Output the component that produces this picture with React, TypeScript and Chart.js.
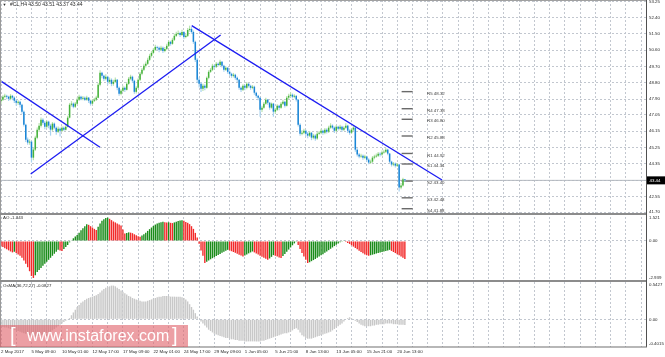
import React, { useEffect, useRef } from 'react';
import { Chart, registerables } from 'chart.js';

Chart.register(...registerables);

// ---------------- data ----------------
const xTickLabels = ['2 May 2017', '5 May 09:00', '10 May 01:00', '12 May 17:00', '17 May 09:00', '22 May 01:00', '24 May 17:00', '29 May 09:00', '1 Jun 05:00', '5 Jun 21:00', '8 Jun 13:00', '13 Jun 05:00', '15 Jun 21:00', '20 Jun 13:00'];
const priceTickLabels = ['53.25', '52.40', '51.50', '50.60', '49.70', '48.80', '47.90', '47.05', '46.15', '45.25', '44.35', '43.45', '42.55', '41.70'];
const aoTickLabels = ['1.521', '0.00', '-2.939'];
const osmaTickLabels = ['0.5427', '0.00', '-0.4015'];

const firstOpen = 47.80;
const closes = [
  47.88, 48.04, 48.09, 48.04, 47.93, 48.09, 47.99, 47.82, 47.71, 47.77,
  47.60, 47.22, 46.50, 45.68, 45.52, 45.57, 44.69, 45.13, 45.79, 46.23,
  46.45, 46.78, 46.61, 46.39, 46.67, 46.45, 46.23, 46.56, 46.34, 46.12,
  46.28, 46.17, 46.34, 46.23, 46.39, 46.89, 47.60, 47.66, 47.49, 47.66,
  47.88, 48.04, 47.93, 47.99, 47.88, 47.99, 47.82, 47.66, 47.82, 47.88,
  47.99, 48.70, 49.36, 49.19, 49.03, 49.14, 48.86, 48.97, 48.75, 48.86,
  48.97, 48.53, 48.20, 48.37, 48.53, 48.42, 48.75, 49.03, 49.14, 48.92,
  48.31, 48.53, 48.97, 49.30, 49.52, 49.74, 49.85, 50.07, 50.29, 50.45,
  50.62, 50.78, 50.73, 50.62, 50.73, 50.56, 50.67, 50.84, 51.06, 50.95,
  51.17, 51.39, 51.50, 51.55, 51.44, 51.60, 51.33, 51.39, 51.71, 51.77,
  51.60, 51.06, 50.07, 48.97, 48.75, 48.48, 48.64, 48.53, 49.08, 49.41,
  49.52, 49.74, 49.69, 49.85, 49.79, 49.96, 49.74, 49.52, 49.63, 49.41,
  49.30, 49.19, 49.25, 49.08, 48.97, 48.53, 48.42, 48.64, 48.53, 48.75,
  48.64, 48.53, 48.59, 48.26, 48.09, 47.99, 47.33, 47.44, 47.66, 47.88,
  47.71, 47.44, 47.66, 47.22, 47.33, 47.55, 47.44, 47.66, 47.77, 47.55,
  47.99, 48.09, 48.15, 48.04, 48.09, 47.88, 46.50, 46.01, 46.06, 46.17,
  46.01, 45.90, 46.06, 45.79, 45.90, 45.74, 46.01, 46.06, 46.17, 46.06,
  46.23, 46.12, 46.34, 46.45, 46.34, 46.17, 46.39, 46.28, 46.39, 46.23,
  46.34, 46.45, 46.17, 46.06, 46.23, 46.34, 45.13, 44.86, 44.75, 44.80,
  44.69, 44.75, 44.58, 44.42, 44.47, 44.69, 44.75, 44.80, 44.91, 44.86,
  44.97, 45.02, 45.13, 44.91, 44.47, 44.31, 44.36, 44.25, 44.31, 43.05,
  43.16, 43.50, 43.44,
];
const highs = [
  48.00, 48.12, 48.20, 48.15, 48.10, 48.18, 48.14, 48.05, 47.90, 47.85,
  47.82, 47.66, 47.28, 46.55, 45.80, 45.70, 45.62, 45.25, 45.90, 46.35,
  46.60, 46.90, 46.85, 46.70, 46.75, 46.72, 46.55, 46.65, 46.62, 46.40,
  46.40, 46.35, 46.42, 46.40, 46.50, 47.00, 47.70, 47.80, 47.72, 47.75,
  48.00, 48.15, 48.10, 48.08, 48.05, 48.10, 48.02, 47.88, 47.90, 47.98,
  48.10, 48.80, 49.50, 49.42, 49.25, 49.28, 49.20, 49.10, 49.05, 48.98,
  49.10, 49.02, 48.60, 48.45, 48.65, 48.60, 48.85, 49.12, 49.25, 49.20,
  48.98, 48.62, 49.05, 49.40, 49.62, 49.85, 49.98, 50.18, 50.40, 50.55,
  50.72, 50.90, 50.85, 50.80, 50.84, 50.80, 50.78, 50.95, 51.15, 51.12,
  51.28, 51.50, 51.62, 51.68, 51.62, 51.72, 51.66, 51.50, 51.82, 51.95,
  51.88, 51.68, 51.12, 50.15, 49.10, 48.85, 48.75, 48.72, 49.15, 49.50,
  49.62, 49.85, 49.80, 49.95, 49.92, 50.07, 50.00, 49.80, 49.72, 49.68,
  49.48, 49.36, 49.35, 49.30, 49.15, 49.02, 48.60, 48.72, 48.70, 48.85,
  48.80, 48.70, 48.68, 48.65, 48.32, 48.15, 48.02, 47.55, 47.75, 47.98,
  47.92, 47.75, 47.72, 47.70, 47.42, 47.62, 47.60, 47.75, 47.88, 47.82,
  48.08, 48.20, 48.28, 48.22, 48.18, 48.12, 47.92, 46.58, 46.20, 46.28,
  46.22, 46.10, 46.15, 46.10, 46.00, 45.98, 46.10, 46.15, 46.28, 46.22,
  46.32, 46.30, 46.45, 46.58, 46.52, 46.40, 46.48, 46.45, 46.50, 46.45,
  46.42, 46.58, 46.50, 46.25, 46.32, 46.45, 46.38, 45.20, 44.95, 44.90,
  44.86, 44.85, 44.80, 44.65, 44.58, 44.78, 44.85, 44.92, 45.00, 44.98,
  45.08, 45.12, 45.22, 45.18, 44.95, 44.52, 44.45, 44.42, 44.40, 44.35,
  43.30, 43.58, 43.51,
];
const lows = [
  47.62, 47.80, 47.95, 47.90, 47.80, 47.85, 47.85, 47.70, 47.55, 47.60,
  47.45, 47.10, 46.40, 45.55, 45.40, 45.40, 44.42, 44.55, 45.05, 45.70,
  46.10, 46.35, 46.50, 46.25, 46.30, 46.30, 45.90, 46.15, 46.25, 45.95,
  46.05, 45.85, 46.10, 46.15, 46.18, 46.35, 46.85, 47.50, 47.40, 47.42,
  47.60, 47.80, 47.85, 47.85, 47.80, 47.82, 47.70, 47.55, 47.60, 47.75,
  47.80, 47.95, 48.62, 49.05, 48.90, 48.95, 48.70, 48.75, 48.62, 48.65,
  48.80, 48.40, 48.10, 48.12, 48.30, 48.30, 48.38, 48.70, 48.95, 48.80,
  48.20, 48.22, 48.48, 48.90, 49.22, 49.45, 49.65, 49.78, 50.00, 50.20,
  50.38, 50.55, 50.60, 50.48, 50.55, 50.45, 50.48, 50.60, 50.78, 50.85,
  50.90, 51.10, 51.32, 51.42, 51.32, 51.38, 51.20, 51.25, 51.33, 51.62,
  51.50, 50.95, 49.95, 48.80, 48.55, 48.30, 48.35, 48.40, 48.48, 49.00,
  49.35, 49.45, 49.58, 49.62, 49.70, 49.72, 49.65, 49.42, 49.45, 49.30,
  49.20, 49.08, 49.10, 48.98, 48.85, 48.42, 48.30, 48.35, 48.40, 48.45,
  48.55, 48.42, 48.45, 48.15, 47.98, 47.85, 46.94, 47.20, 47.38, 47.60,
  47.60, 47.32, 47.38, 46.94, 47.10, 47.25, 47.30, 47.38, 47.58, 47.45,
  47.50, 47.90, 48.00, 47.95, 47.96, 47.78, 46.40, 45.90, 45.92, 45.98,
  45.85, 45.75, 45.82, 45.65, 45.70, 45.62, 45.68, 45.95, 45.98, 45.95,
  45.98, 46.02, 46.05, 46.28, 46.25, 46.05, 46.10, 46.18, 46.20, 46.12,
  46.15, 46.28, 46.05, 45.95, 46.00, 46.15, 45.02, 44.75, 44.65, 44.68,
  44.58, 44.60, 44.48, 44.32, 44.35, 44.40, 44.60, 44.68, 44.72, 44.75,
  44.80, 44.90, 44.95, 44.82, 44.38, 44.20, 44.22, 44.15, 44.18, 42.83,
  42.95, 43.10, 43.37,
];
const aoValues = [
  -0.35, -0.45, -0.55, -0.62, -0.70, -0.78, -0.85, -0.80, -0.90, -1.00,
  -1.10, -1.25, -1.45, -1.70, -1.95, -2.25, -2.60, -2.75, -2.55, -2.30,
  -2.15, -2.00, -1.85, -1.70, -1.55, -1.40, -1.25, -1.10, -0.95, -0.80,
  -0.66, -0.70, -0.74, -0.60, -0.45, -0.30, -0.10, 0.05, 0.20, 0.33,
  0.44, 0.62, 0.80, 0.95, 1.10, 1.25, 1.20, 1.10, 1.00, 0.90,
  0.81, 1.05, 1.30, 1.50, 1.62, 1.70, 1.74, 1.65, 1.55, 1.45,
  1.38, 1.30, 1.22, 1.15, 0.85, 0.55, 0.60, 0.64, 0.62, 0.58,
  0.50, 0.42, 0.36, 0.32, 0.40, 0.50, 0.62, 0.75, 0.88, 1.00,
  1.12, 1.22, 1.30, 1.36, 1.40, 1.43, 1.40, 1.37, 1.39, 1.35,
  1.33, 1.38, 1.43, 1.48, 1.52, 1.55, 1.50, 1.42, 1.35, 1.25,
  1.10, 0.90, 0.60, 0.25, -0.20, -0.70, -1.10, -1.64, -1.55, -1.45,
  -1.36, -1.28, -1.20, -1.12, -1.04, -0.96, -0.88, -0.80, -0.73, -0.66,
  -0.70, -0.76, -0.82, -0.88, -0.95, -1.02, -1.08, -1.15, -1.08, -1.00,
  -0.92, -0.85, -0.78, -0.85, -0.93, -1.01, -1.09, -1.17, -1.25, -1.33,
  -1.40, -1.30, -1.18, -1.05, -1.10, -1.16, -1.22, -1.27, -1.12, -0.96,
  -0.80, -0.64, -0.48, -0.32, -0.18, -0.05, -0.30, -0.60, -0.90, -1.15,
  -1.40, -1.64, -1.58, -1.50, -1.42, -1.34, -1.25, -1.16, -1.07, -0.98,
  -0.88, -0.78, -0.68, -0.58, -0.48, -0.38, -0.28, -0.18, -0.10, -0.05,
  0.02, -0.08, -0.15, -0.22, -0.32, -0.42, -0.52, -0.62, -0.72, -0.82,
  -0.92, -1.00, -1.06, -1.10, -1.06, -1.02, -0.98, -0.94, -0.90, -0.86,
  -0.82, -0.78, -0.74, -0.70, -0.66, -0.74, -0.82, -0.90, -0.98, -1.07,
  -1.16, -1.25, -1.343,
];
const osmaValues = [
  -0.10, -0.11, -0.12, -0.12, -0.13, -0.14, -0.14, -0.15, -0.16, -0.17,
  -0.18, -0.19, -0.20, -0.21, -0.22, -0.23, -0.24, -0.25, -0.25, -0.25,
  -0.24, -0.23, -0.22, -0.21, -0.20, -0.19, -0.18, -0.16, -0.14, -0.12,
  -0.10, -0.08, -0.06, -0.04, -0.02, -0.01, 0.02, 0.06, 0.10, 0.14,
  0.18, 0.21, 0.24, 0.26, 0.28, 0.30, 0.31, 0.32, 0.33, 0.34,
  0.35, 0.37, 0.39, 0.42, 0.44, 0.46, 0.47, 0.48, 0.49, 0.49,
  0.48, 0.46, 0.44, 0.42, 0.40, 0.38, 0.36, 0.34, 0.33, 0.31,
  0.30, 0.29, 0.28, 0.27, 0.26, 0.26, 0.26, 0.27, 0.28, 0.29,
  0.30, 0.31, 0.32, 0.33, 0.33, 0.34, 0.34, 0.34, 0.34, 0.33,
  0.33, 0.33, 0.33, 0.33, 0.33, 0.32, 0.31, 0.29, 0.26, 0.22,
  0.18, 0.14, 0.09, 0.04, 0.00, -0.03, -0.06, -0.09, -0.12, -0.15,
  -0.17, -0.19, -0.21, -0.22, -0.23, -0.24, -0.25, -0.26, -0.27, -0.27,
  -0.28, -0.29, -0.29, -0.30, -0.30, -0.31, -0.31, -0.31, -0.32, -0.32,
  -0.32, -0.32, -0.32, -0.32, -0.32, -0.32, -0.32, -0.31, -0.31, -0.30,
  -0.29, -0.28, -0.27, -0.26, -0.25, -0.24, -0.23, -0.22, -0.21, -0.20,
  -0.20, -0.19, -0.18, -0.16, -0.14, -0.13, -0.15, -0.19, -0.23, -0.25,
  -0.27, -0.28, -0.28, -0.28, -0.27, -0.26, -0.25, -0.24, -0.23, -0.22,
  -0.21, -0.20, -0.19, -0.18, -0.16, -0.14, -0.12, -0.10, -0.08, -0.06,
  -0.03, 0.00, 0.02, 0.03, 0.02, 0.00, -0.02, -0.04, -0.06, -0.08,
  -0.09, -0.10, -0.10, -0.10, -0.10, -0.09, -0.09, -0.08, -0.08, -0.07,
  -0.07, -0.07, -0.06, -0.06, -0.06, -0.06, -0.07, -0.07, -0.07, -0.08,
  -0.08, -0.08, -0.0827,
];
const pivotNames = ['R5', 'R4', 'R3', 'R2', 'R1', 'S1', 'S2', 'S3', 'S4'];
const pivotLevels = [48.32, 47.38, 46.80, 45.88, 44.92, 44.34, 43.40, 42.48, 41.88];
const pivotSpan = [210.3, 216.1]; // bar index range of the pivot day
const pivotLabelAt = 223.6; // bar index where pivot captions start
const trendLines = [
  [[0.37, 48.87], [51.97, 45.26]],
  [[15.6, 43.79], [115.3, 51.43]],
  [[100.1, 51.95], [231.5, 43.46]],
];

// ---------------- layout / style ----------------
const W = 665;
const AXIS_W = 19;
const BAR_PX = 1.905;
const X_MIN = -0.525;
const X_MAX = X_MIN + (W - AXIS_W) / BAR_PX;
const LABEL_EVERY = 16;
const GRID_EVERY = 8;
const PRICE_MAX = 53.36;
const PRICE_MIN = 41.645;
const AO_MAX = 2.08;
const AO_MIN = -3.05;
const AO_LABEL_AT = [1.71, 0, -2.75];
const OS_MAX = 0.5427;
const OS_MIN = -0.4015;
const OS_LABEL_AT = [0.499, 0, -0.358];

const FONT = '"Liberation Sans", Arial, sans-serif';
const TICK_FONT = { family: FONT, size: 4.4 };
const GRID = '#c2c7cf';
const UP = '#45b23b';
const UP_L = '#b9e3b0';
const DOWN = '#1985d6';
const DOWN_L = '#a9d3f0';
const AO_UP = '#1a8c1a';
const AO_DN = '#f22a2a';
const OSMA_C = '#c8c8c8';
const TREND = '#1c1cf2';
const BID = '#b3b8bf';
const FRAME = '#8c8c8c';
const AXIS_LINE = '#505050';
const TEXT = '#2a2a2a';

function xScale(showLabels: boolean): any {
  return {
    type: 'linear',
    min: X_MIN,
    max: X_MAX,
    offset: false,
    afterBuildTicks: (s: any) => {
      const t: any[] = [];
      for (let v = 0; v <= X_MAX; v += GRID_EVERY) t.push({ value: v });
      s.ticks = t;
    },
    afterFit: (s: any) => {
      s.height = showLabels ? 10 : 0;
      s.paddingLeft = 0;
      s.paddingRight = 0;
    },
    ticks: {
      display: showLabels,
      autoSkip: false,
      maxRotation: 0,
      minRotation: 0,
      align: 'start',
      padding: 2,
      color: TEXT,
      font: TICK_FONT,
      callback: (v: number) => {
        const k = v / LABEL_EVERY;
        return Number.isInteger(k) && k < xTickLabels.length ? xTickLabels[k] : '';
      },
    },
    grid: { color: GRID, lineWidth: 1, drawTicks: false, offset: false },
    border: { display: false, dash: [2, 2] },
  };
}

function yScale(min: number, max: number, at: number[], labels: string[], onlyZeroGrid: boolean): any {
  return {
    type: 'linear',
    position: 'right',
    min,
    max,
    afterBuildTicks: (s: any) => {
      s.ticks = at.map((v) => ({ value: v }));
    },
    afterFit: (s: any) => {
      s.width = AXIS_W;
      s.paddingTop = 0;
      s.paddingBottom = 0;
    },
    ticks: {
      autoSkip: false,
      padding: 3,
      color: TEXT,
      font: TICK_FONT,
      callback: (_v: number, i: number) => labels[i],
    },
    grid: {
      drawTicks: false,
      lineWidth: 1,
      color: onlyZeroGrid ? (c: any) => (c.tick && c.tick.value === 0 ? GRID : 'rgba(0,0,0,0)') : GRID,
    },
    border: { display: false, dash: [2, 2] },
  };
}

const baseOptions = {
  responsive: false,
  animation: false,
  events: [],
  layout: { padding: 0 },
  plugins: { legend: { display: false }, tooltip: { enabled: false } },
};

function frame(ctx: CanvasRenderingContext2D, area: any) {
  ctx.fillStyle = '#9a9a9a';
  ctx.fillRect(0, area.top, 1, area.bottom - area.top);
  ctx.fillStyle = AXIS_LINE;
  ctx.fillRect(area.right, area.top, 1, area.bottom - area.top);
}

function mainConfig(): any {
  const opens = closes.map((_c, i) => (i === 0 ? firstOpen : closes[i - 1]));
  const up = closes.map((c, i) => c >= opens[i]);
  const last = closes[closes.length - 1];
  const n = closes.length - 1;
  const plugin = {
    id: 'mainDecor',
    afterDraw(chart: any) {
      const { ctx, chartArea: a } = chart;
      const xs = chart.scales.x;
      const ys = chart.scales.y;
      ctx.save();
      frame(ctx, a);
      ctx.fillStyle = '#a0a0a0';
      ctx.fillRect(0, 0, a.right, 1);
      ctx.textAlign = 'left';
      ctx.textBaseline = 'middle';
      ctx.fillStyle = '#3a3a3a';
      ctx.font = `4.4px ${FONT}`;
      pivotNames.forEach((name, i) => {
        ctx.fillText(`${name} ${pivotLevels[i].toFixed(2)}`, xs.getPixelForValue(pivotLabelAt), ys.getPixelForValue(pivotLevels[i]) + 2);
      });
      ctx.fillStyle = TEXT;
      ctx.font = `4px ${FONT}`;
      ctx.fillText('▼', 2.5, 5);
      ctx.font = `5px ${FONT}`;
      ctx.fillText(`#CL,H4 ${opens[n].toFixed(2)} ${highs[n].toFixed(2)} ${lows[n].toFixed(2)} ${last.toFixed(2)}`, 10, 5);
      const py = ys.getPixelForValue(last);
      ctx.fillStyle = '#000';
      ctx.fillRect(a.right + 1, py - 4, W - a.right - 1, 8);
      ctx.fillStyle = '#fff';
      ctx.font = `4.4px ${FONT}`;
      ctx.fillText(last.toFixed(2), a.right + 3.5, py);
      ctx.restore();
    },
  };
  return {
    type: 'bar',
    data: {
      datasets: [
        ...trendLines.map((t) => ({
          type: 'line',
          data: t.map(([x, y]) => ({ x, y })),
          borderColor: TREND,
          borderWidth: 1.3,
          pointRadius: 0,
          order: 0,
        })),
        {
          type: 'bar',
          data: closes.map((c, i) => ({ x: i, y: [opens[i], c] })),
          backgroundColor: up.map((u) => (u ? UP : DOWN)),
          barThickness: 1.5,
          grouped: false,
          inflateAmount: 0,
          borderWidth: 0,
          order: 1,
        },
        {
          type: 'bar',
          data: highs.map((h, i) => ({ x: i, y: [lows[i], h] })),
          backgroundColor: up.map((u) => (u ? UP_L : DOWN_L)),
          barThickness: 1.2,
          grouped: false,
          inflateAmount: 0,
          borderWidth: 0,
          order: 2,
        },
        ...pivotLevels.map((l) => ({
          type: 'line',
          data: [{ x: pivotSpan[0], y: l }, { x: pivotSpan[1], y: l }],
          borderColor: '#6a6a6a',
          borderWidth: 1.4,
          pointRadius: 0,
          order: 3,
        })),
        {
          type: 'line',
          data: [{ x: X_MIN, y: last }, { x: X_MAX, y: last }],
          borderColor: BID,
          borderWidth: 1,
          pointRadius: 0,
          order: 4,
        },
      ],
    },
    options: {
      ...baseOptions,
      scales: {
        x: xScale(false),
        y: yScale(PRICE_MIN, PRICE_MAX, priceTickLabels.map((l) => parseFloat(l)), priceTickLabels, false),
      },
    },
    plugins: [plugin],
  };
}

function aoConfig(): any {
  const colors = aoValues.map((v, i) => (i > 0 && v > aoValues[i - 1] ? AO_UP : AO_DN));
  const plugin = {
    id: 'aoDecor',
    afterDraw(chart: any) {
      const { ctx, chartArea: a } = chart;
      ctx.save();
      frame(ctx, a);
      ctx.fillStyle = FRAME;
      ctx.fillRect(0, 0, a.right, 2);
      ctx.fillRect(0, a.bottom - 2, a.right, 2);
      ctx.fillStyle = TEXT;
      ctx.font = `4.4px ${FONT}`;
      ctx.textBaseline = 'middle';
      ctx.fillText(`AO ${aoValues[aoValues.length - 1].toFixed(3)}`, 3, 5);
      ctx.restore();
    },
  };
  return {
    type: 'bar',
    data: {
      datasets: [
        {
          data: aoValues.map((v, i) => ({ x: i, y: v })),
          backgroundColor: colors,
          barThickness: 1.4,
          inflateAmount: 0,
          borderWidth: 0,
        },
      ],
    },
    options: {
      ...baseOptions,
      scales: { x: xScale(false), y: yScale(AO_MIN, AO_MAX, AO_LABEL_AT, aoTickLabels, true) },
    },
    plugins: [plugin],
  };
}

function osmaConfig(): any {
  const plugin = {
    id: 'osmaDecor',
    afterDraw(chart: any) {
      const { ctx, chartArea: a } = chart;
      ctx.save();
      frame(ctx, a);
      ctx.fillStyle = '#707070';
      ctx.fillRect(0, a.bottom - 0.5, a.right + 1, 1);
      ctx.fillStyle = TEXT;
      ctx.font = `4.4px ${FONT}`;
      ctx.textBaseline = 'middle';
      ctx.fillText(`OsMA(36,72,27) ${osmaValues[osmaValues.length - 1].toFixed(4)}`, 3, 3.5);
      ctx.restore();
    },
  };
  return {
    type: 'bar',
    data: {
      datasets: [
        {
          data: osmaValues.map((v, i) => ({ x: i, y: v })),
          backgroundColor: OSMA_C,
          barThickness: 1.4,
          inflateAmount: 0,
          borderWidth: 0,
        },
      ],
    },
    options: {
      ...baseOptions,
      scales: { x: xScale(true), y: yScale(OS_MIN, OS_MAX, OS_LABEL_AT, osmaTickLabels, true) },
    },
    plugins: [plugin],
  };
}

export default function App() {
  const mainRef = useRef<HTMLCanvasElement>(null);
  const aoRef = useRef<HTMLCanvasElement>(null);
  const osRef = useRef<HTMLCanvasElement>(null);

  useEffect(() => {
    const charts = [
      new Chart(mainRef.current as HTMLCanvasElement, mainConfig()),
      new Chart(aoRef.current as HTMLCanvasElement, aoConfig()),
      new Chart(osRef.current as HTMLCanvasElement, osmaConfig()),
    ];
    return () => charts.forEach((c) => c.destroy());
  }, []);

  const wmText: React.CSSProperties = {
    position: 'absolute',
    color: '#fff',
    fontFamily: FONT,
    fontSize: 16,
    lineHeight: '22px',
    top: 0,
    whiteSpace: 'pre',
  };

  return (
    <div style={{ position: 'fixed', left: 0, top: 0, width: W, height: 357, background: '#fff', overflow: 'hidden' }}>
      <canvas ref={mainRef} width={W} height={213} style={{ position: 'absolute', left: 0, top: 0 }} />
      <canvas ref={aoRef} width={W} height={69} style={{ position: 'absolute', left: 0, top: 213 }} />
      <canvas ref={osRef} width={W} height={75} style={{ position: 'absolute', left: 0, top: 282 }} />
      <div style={{ position: 'absolute', left: 0, top: 325, width: 188, height: 22, background: 'rgba(224,100,108,0.62)' }}>
        <span style={{ ...wmText, left: 10, fontSize: 20, lineHeight: '21px' }}>[</span>
        <span style={{ ...wmText, left: 27 }}>www.instaforex.com</span>
        <span style={{ ...wmText, left: 172, fontSize: 20, lineHeight: '21px' }}>]</span>
      </div>
    </div>
  );
}
